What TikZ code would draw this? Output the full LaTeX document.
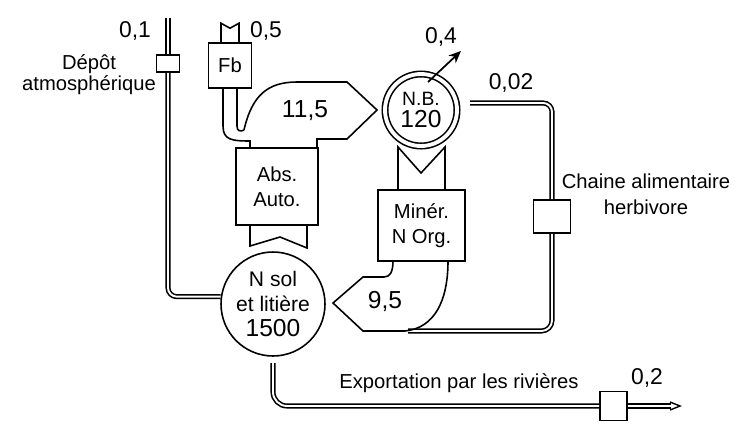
\documentclass[tikz,border=0pt]{standalone}
\usepackage{fontspec}
\setmainfont{Liberation Sans}
\usetikzlibrary{arrows.meta,calc}

\begin{document}
\begin{tikzpicture}[x=0.02cm,y=-0.02cm,line width=0.9pt,
  pipe/.style={double,double distance=1.1pt,line width=0.9pt,rounded corners=5pt},
  stock/.style={circle,draw,align=center,inner sep=0pt},
  proc/.style={rectangle,draw,align=center,inner sep=0pt,font=\fontsize{11.5}{14}\selectfont},
  valve/.style={rectangle,draw,fill=white,inner sep=0pt},
  lab/.style={align=center,font=\fontsize{11.5}{12}\selectfont},
  num/.style={font=\fontsize{13}{14}\selectfont},
  bignum/.style={font=\fontsize{14}{15}\selectfont}]
\useasboundingbox (0,0) rectangle (736,423);

% compartiments
\node[stock,minimum size=2.08cm,font=\fontsize{12}{14}\selectfont] (sol) at (273,304)
  {N sol\\et litière\\\fontsize{14}{15}\selectfont 1500};
\node[stock,double,double distance=2.2pt,minimum size=1.44cm,font=\fontsize{11}{13}\selectfont] (nb) at (421,110)
  {N.B.\\\fontsize{14}{15}\selectfont 120};
\node[proc,minimum width=1.64cm,minimum height=1.54cm] (abs) at (277,186.5) {Abs.\\Auto.};
\node[proc,minimum width=1.74cm,minimum height=1.42cm] (min) at (421.5,225.5) {Minér.\\N Org.};
\node[proc,minimum width=0.86cm,minimum height=0.9cm] (fb) at (230,65.5) {Fb};
\node[valve,minimum width=0.46cm,minimum height=0.34cm] (lv) at (168,63.5) {};
\node[valve,minimum width=0.74cm,minimum height=0.66cm] (herb) at (552,216.5) {};
\node[valve,minimum width=0.54cm,minimum height=0.58cm] (exbox) at (613.5,406) {};

% conduites
\coordinate (ltop) at (168,18);
\coordinate (c002) at (470,103);
\coordinate (b95) at (408,331);
\coordinate (exstart) at (273,363);
\coordinate (extip) at (680,406);
\coordinate (b04) at (461,51);
\draw[pipe] (ltop) -- (lv);
\draw[pipe] (lv) |- (sol.172);
\draw[pipe] (c002) -| (herb);
\draw[pipe,rounded corners=6pt] (herb) |- (b95);
\draw[pipe,rounded corners=8pt] (exstart) |- (exbox);
\draw[pipe] (exbox) -- ($(extip)+(-9,0)$);
\draw[line width=0.8pt] ($(extip)+(-10,-4)$) -- (extip) -- ($(extip)+(-10,4)$);
\draw[-{Stealth[length=7pt,width=6pt]},line width=1pt] ($(nb.center)+(7,-28)$) -- (b04);

% flux
\draw ($(fb.north)+(-9,0)$) -- ++(0,-19) -- ++(9,5) -- ++(9,-5) -- ($(fb.north)+(9,0)$);
\draw ($(fb.south)+(-7,0)$) -- (223,126) .. controls (223,140) and (232,141) .. (250,141) -- (250,147);
\draw ($(fb.south)+(7,0)$) -- (237,126) .. controls (237,131) and (240,132) .. (244,130);
\draw (244,130) .. controls (252,95) and (268,82) .. (297,82) -- (347,82) -- (377,110)
  -- (347,139) -- (317,139) -- (317,147);
\draw (250,225) -- (250,246) -- (280,237) -- (307,248) -- (307,225);
\draw (398,190) -- (398,147) -- (421,173) -- (445,147) -- (445,190);
\draw (448,261) .. controls (448,300) and (435,328) .. (405,331) -- (363,331) -- (333,303)
  -- (363,277) -- (384,277) .. controls (390,277) and (393,272) .. (393,261);

% valeurs
\node[num] (l01) at (135,31) {0,1};
\node[lab] (ldep) at (89,75) {Dépôt\\atmosphérique};
\node[num] (l05) at (266,31) {0,5};
\node[bignum] (l115) at (305,111) {11,5};
\node[num] (l04) at (441,37) {0,4};
\node[num] (l002) at (511,83) {0,02};
\node[lab,font=\fontsize{11.5}{15}\selectfont] (lherb) at (646,194) {Chaine alimentaire\\herbivore};
\node[bignum] (l95) at (385,301) {9,5};
\node[lab] (lexp) at (459,383) {Exportation par les rivières};
\node[num] (l02) at (647,378) {0,2};
\end{tikzpicture}
\end{document}
